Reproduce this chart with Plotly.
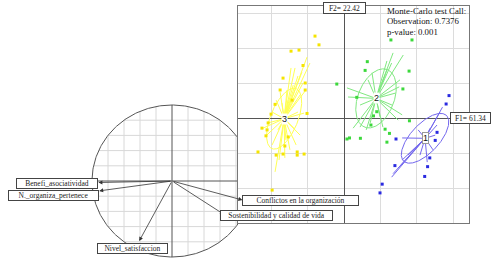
import numpy as np
import plotly.graph_objects as go

# ---------------- data ----------------
# correlation circle: variable coordinates (F1, F2)
var_names = ["Benefi_asociatividad", "N._organiza_pertenece", "Nivel_satisfaccion",
             "Sostenibilidad y calidad de vida", "Conflictos en la organización"]
var_f1 = [-0.92, -0.91, -0.41, 0.65, 0.88]
var_f2 = [-0.02, -0.13, -0.79, -0.44, -0.25]

# class labels, centroids and ellipse parameters
class_names = ["1", "2", "3"]
centroid_x = [2.23, 0.88, -1.65]
centroid_y = [-0.58, 0.56, -0.02]
ell_a = [0.88, 0.88, 0.92]
ell_b = [0.40, 0.50, 0.38]
ell_angle = [48.7, 70.0, 69.0]

# star end points (individual scores) per class
star1_x = [2.71, 2.64, 2.56, 1.31, 1.35, 1.49, 1.60, 1.76, 2.45, 2.09, 2.29, 1.60, 2.51, 2.37, 2.04]
star1_y = [0.31, 0.17, -0.20, -1.69, -1.59, -1.43, -1.20, -1.06, -0.91, -1.06, -1.26, -0.57, -0.49, -0.29, -0.34]
star2_x = [1.63, 1.35, 1.18, 1.31, 1.18, 1.54, 1.52, 1.41, 0.08, 0.11, 0.25, 0.44, 0.61, 0.72, 1.49, 1.60,
           1.07, 0.99, 0.77, 0.66, 1.13, 0.44, 1.32]
star2_y = [1.80, 1.86, 1.63, 1.57, 1.37, 1.09, 0.89, 0.71, 0.86, 0.60, -0.29, -0.26, -0.34, -0.14, -0.06, 0.09,
           -0.26, 0.03, 1.29, 1.09, 1.23, 0.37, 0.37]
star3_x = [-1.02, -0.94, -1.35, -1.46, -1.16, -1.27, -1.13, -1.05, -1.21, -1.40, -1.57, -1.76, -1.87, -1.98,
           -2.09, -2.23, -2.15, -1.98, -1.90, -1.79, -1.63, -1.49, -1.32, -1.21, -1.38, -1.10, -1.27, -1.54,
           -1.71, -1.82, -1.60]
star3_y = [1.74, 1.57, 1.43, 1.43, 1.31, 1.20, 1.00, 0.80, 0.66, 0.94, 0.80, 0.74, 0.51, 0.17, -0.14, -0.29,
           -0.51, -0.77, -1.54, -1.20, -1.14, -0.91, -0.77, -0.49, -0.29, 0.14, 0.17, 0.51, 0.43, -0.34, -0.63]

# dots per class
dots1_x = [2.89, 2.81, 2.56, 2.51, 1.43, 2.36, 2.30, 1.40, 2.22, 1.05, 0.99]
dots1_y = [0.64, 0.40, -0.41, -0.64, -0.60, -1.14, -1.39, -1.36, -1.67, -1.89, -2.14]
dots2_x = [1.29, 1.87, 0.64, 0.58, 1.79, -0.20, 1.62, 0.35, 1.80, 0.08, 0.15, 0.45, 1.18, 1.13, 1.25, 0.81, 0.90, 0.74]
dots2_y = [2.23, 2.23, 1.61, 1.36, 1.34, 0.97, 0.83, 0.59, -0.08, -0.60, -0.57, -0.58, -0.69, -0.32, -0.44, 0.06, 0.18, -0.20]
dots3_x = [-0.80, -0.69, -1.46, -1.24, -1.13, -1.68, -1.07, -1.76, -1.07, -1.90, -1.02, -2.01, -2.09, -2.26,
           -2.12, -2.15, -2.37, -1.87, -1.68, -1.29, -1.29, -1.10, -1.63, -1.43, -1.98, -1.54]
dots3_y = [2.34, 2.09, 1.91, 1.94, 1.50, 1.14, 1.00, 0.80, 0.80, 0.39, 0.13, 0.11, -0.14, -0.29, -0.34, -0.51,
           -0.97, -1.06, -1.03, -0.97, -1.06, -1.03, -0.80, 0.51, -2.06, -0.54]

eig_f1_label = "F1= 61.34"
eig_f2_label = "F2= 22.42"
mc_lines = ["Monte-Carlo test Call:", "Observation: 0.7376", "p-value: 0.001"]

# ---------------- styles ----------------
W, H = 498, 269
line_cols = ["#7468EE", "#80E880", "#FFFF55"]
dot_cols = ["#2A2AE0", "#3CD83C", "#F5E400"]
serif = "Liberation Serif"

def px_x(p):
    return p / W

def px_y(p):
    return 1 - p / H

fig = go.Figure()

# ---------------- correlation circle (x / y) ----------------
gx, gy = [], []
for v in np.arange(-0.8, 0.81, 0.2):
    if abs(v) < 1e-9:
        continue
    h = float(np.sqrt(1 - v * v))
    gx += [v, v, None]; gy += [-h, h, None]
    gx += [-h, h, None]; gy += [v, v, None]
fig.add_trace(go.Scatter(x=gx, y=gy, mode="lines", line=dict(color="#d8d8d8", width=1),
                         xaxis="x", yaxis="y", hoverinfo="skip", showlegend=False))
fig.add_trace(go.Scatter(x=[-1, 1, None, 0, 0], y=[0, 0, None, -1, 1], mode="lines",
                         line=dict(color="#555555", width=1), xaxis="x", yaxis="y",
                         hoverinfo="skip", showlegend=False))
t = np.linspace(0, 2 * np.pi, 361)
fig.add_trace(go.Scatter(x=np.cos(t), y=np.sin(t), mode="lines", line=dict(color="#555555", width=1),
                         xaxis="x", yaxis="y", hoverinfo="skip", showlegend=False))

# ---------------- class scatter (x2 / y2) ----------------
stars = [(star1_x, star1_y), (star2_x, star2_y), (star3_x, star3_y)]
dots = [(dots1_x, dots1_y), (dots2_x, dots2_y), (dots3_x, dots3_y)]
for k in range(3):
    sx, sy = [], []
    for x, y in zip(*stars[k]):
        sx += [centroid_x[k], x, None]
        sy += [centroid_y[k], y, None]
    fig.add_trace(go.Scatter(x=sx, y=sy, mode="lines", line=dict(color=line_cols[k], width=1),
                             xaxis="x2", yaxis="y2", hoverinfo="skip", showlegend=False))
    ang = np.deg2rad(ell_angle[k])
    ex = centroid_x[k] + ell_a[k] * np.cos(t) * np.cos(ang) - ell_b[k] * np.sin(t) * np.sin(ang)
    ey = centroid_y[k] + ell_a[k] * np.cos(t) * np.sin(ang) + ell_b[k] * np.sin(t) * np.cos(ang)
    fig.add_trace(go.Scatter(x=ex, y=ey, mode="lines", line=dict(color=line_cols[k], width=1),
                             xaxis="x2", yaxis="y2", hoverinfo="skip", showlegend=False))
    fig.add_trace(go.Scatter(x=dots[k][0], y=dots[k][1], mode="markers",
                             marker=dict(symbol="square", size=3, color=dot_cols[k], line=dict(width=0)),
                             xaxis="x2", yaxis="y2", hoverinfo="skip", showlegend=False))

annotations = []
# centroid labels
for k in range(3):
    annotations.append(dict(x=centroid_x[k], y=centroid_y[k], xref="x2", yref="y2", text=class_names[k],
                            showarrow=False, bgcolor="white", borderpad=0,
                            bordercolor="#999999" if k == 0 else "rgba(0,0,0,0)", borderwidth=1,
                            font=dict(family="Liberation Sans", size=9, color="#111")))

# arrows for variables
for f1, f2 in zip(var_f1, var_f2):
    annotations.append(dict(x=f1, y=f2, ax=0, ay=0, xref="x", yref="y", axref="x", ayref="y",
                            text="", showarrow=True, arrowhead=2, arrowsize=1, arrowwidth=0.8,
                            arrowcolor="#333333", standoff=0, startstandoff=0))

label_style = [
    dict(xanchor="right", yanchor="middle", xshift=0, yshift=-1, width=80),
    dict(xanchor="right", yanchor="top", xshift=0, yshift=1, width=89),
    dict(xanchor="center", yanchor="top", xshift=-7, yshift=-2, width=69),
    dict(xanchor="left", yanchor="middle", xshift=-4, yshift=-1, width=111),
    dict(xanchor="left", yanchor="middle", xshift=0, yshift=0, width=115),
]
for name, f1, f2, st in zip(var_names, var_f1, var_f2, label_style):
    annotations.append(dict(x=f1, y=f2, xref="x", yref="y", text=name, showarrow=False,
                            bgcolor="white", bordercolor="#444444", borderwidth=1, borderpad=0,
                            height=9, font=dict(family=serif, size=7.5, color="#222"), **st))

# eigenvalue labels
annotations.append(dict(x=0, y=px_y(8), xref="x2", yref="paper", text=eig_f2_label, showarrow=False,
                        xanchor="center", yanchor="middle",
                        bgcolor="white", bordercolor="#444444", borderwidth=1, borderpad=0,
                        width=41, height=10, font=dict(family=serif, size=7.5, color="#222")))
annotations.append(dict(x=px_x(470.5), y=0, xref="paper", yref="y2", text=eig_f1_label, showarrow=False,
                        xanchor="center", yanchor="middle",
                        bgcolor="white", bordercolor="#444444", borderwidth=1, borderpad=0,
                        width=39, height=10, font=dict(family=serif, size=7.5, color="#222")))

# Monte-Carlo text
for txt, ypx in zip(mc_lines, [11, 21.3, 32]):
    annotations.append(dict(x=px_x(385), y=px_y(ypx), xref="paper", yref="paper", text=txt,
                            showarrow=False, xanchor="left", yanchor="middle",
                            font=dict(family=serif, size=8.8, color="#111")))

fig.update_layout(
    width=W, height=H, autosize=False,
    margin=dict(l=0, r=0, t=0, b=0),
    paper_bgcolor="white", plot_bgcolor="white",
    showlegend=False,
    xaxis=dict(domain=[px_x(76), px_x(268)], range=[-1.2, 1.2], visible=False, fixedrange=True),
    yaxis=dict(domain=[px_y(268.4), px_y(93.6)], range=[-1.15, 1.15], visible=False, fixedrange=True),
    xaxis2=dict(domain=[px_x(238), px_x(469)], range=[-2.92, 3.44], anchor="y2",
                showgrid=True, gridcolor="#dcdcdc", gridwidth=1, dtick=1, tick0=0,
                zeroline=True, zerolinecolor="#555555", zerolinewidth=1,
                showline=True, mirror=True, linecolor="#777777", linewidth=1,
                showticklabels=False, ticks=""),
    yaxis2=dict(domain=[px_y(223), px_y(6)], range=[-3.0, 3.2], anchor="x2",
                showgrid=True, gridcolor="#dcdcdc", gridwidth=1, dtick=1, tick0=0,
                zeroline=True, zerolinecolor="#555555", zerolinewidth=1,
                showline=True, mirror=True, linecolor="#777777", linewidth=1,
                showticklabels=False, ticks=""),
    annotations=annotations,
)

fig.write_html("out.html", config={"displayModeBar": False, "staticPlot": True},
               post_script="document.body.style.margin='0px';document.body.style.overflow='hidden';")
